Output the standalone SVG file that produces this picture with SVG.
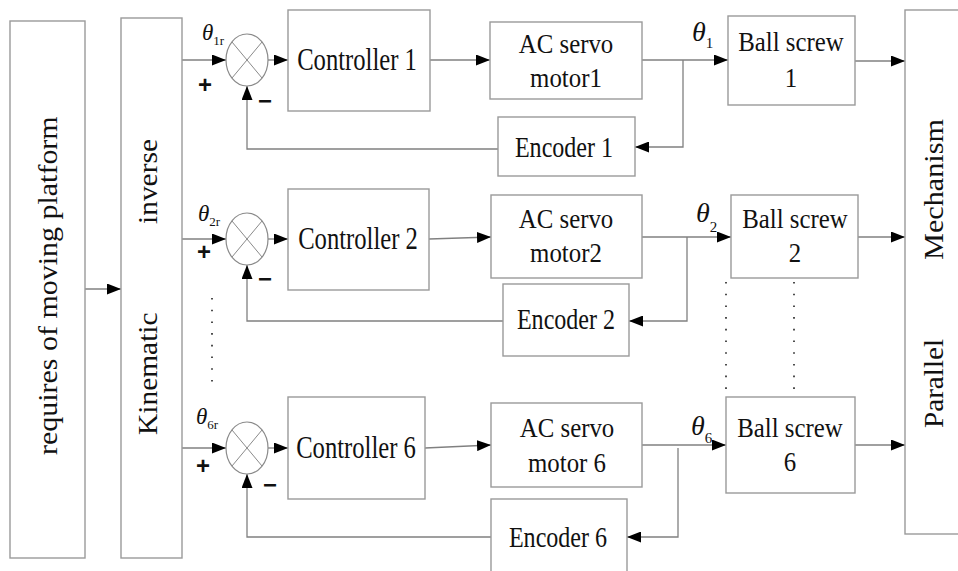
<svg xmlns="http://www.w3.org/2000/svg" width="958" height="571" viewBox="0 0 958 571">
  <defs>
    <marker id="arrow" markerUnits="userSpaceOnUse" markerWidth="14" markerHeight="11" refX="14" refY="5.5" orient="auto">
      <path d="M0,0 L14,5.5 L0,11 Z" fill="#000"/>
    </marker>
    <style>
      .box { fill: #fff; stroke: #9a9a9a; stroke-width: 1.4; }
      .sum { fill: #fff; stroke: #8a8a8a; stroke-width: 1.2; }
      .cross { stroke: #8a8a8a; stroke-width: 1; }
      .wire { fill: none; stroke: #808080; stroke-width: 1.3; }
      .dots { fill: none; stroke: #222; stroke-width: 1.6; stroke-dasharray: 1.6 10.1; }
      text { font-family: "Liberation Serif", "Times New Roman", serif; fill: #111; }
      .ctl { font-size: 32px; text-anchor: middle; }
      .mid { font-size: 27px; text-anchor: middle; }
      .enc { font-size: 29px; text-anchor: middle; }
      .vert { font-size: 27px; }
      .th { font-style: italic; }
      .sign { font-family: "Liberation Sans", Arial, sans-serif; font-weight: bold; font-size: 24px; text-anchor: middle; }
    </style>
  </defs>

  <!-- connectors -->
  <g id="connectors">
    <line class="wire" x1="85" y1="289" x2="121" y2="289" marker-end="url(#arrow)"/>

    <!-- channel 1 -->
    <line class="wire" x1="182" y1="60" x2="226" y2="60" marker-end="url(#arrow)"/>
    <line class="wire" x1="268" y1="60" x2="288" y2="60" marker-end="url(#arrow)"/>
    <line class="wire" x1="430" y1="60" x2="490" y2="60" marker-end="url(#arrow)"/>
    <line class="wire" x1="642" y1="60" x2="728" y2="60" marker-end="url(#arrow)"/>
    <polyline class="wire" points="683,60 683,147 635,147" marker-end="url(#arrow)"/>
    <polyline class="wire" points="498,149 247,149 247,86" marker-end="url(#arrow)"/>
    <line class="wire" x1="855" y1="61" x2="905" y2="61" marker-end="url(#arrow)"/>

    <!-- channel 2 -->
    <line class="wire" x1="182" y1="239" x2="226" y2="239" marker-end="url(#arrow)"/>
    <line class="wire" x1="268" y1="239" x2="288" y2="239" marker-end="url(#arrow)"/>
    <line class="wire" x1="429" y1="239" x2="491" y2="237" marker-end="url(#arrow)"/>
    <line class="wire" x1="642" y1="237" x2="731" y2="237" marker-end="url(#arrow)"/>
    <polyline class="wire" points="687,237 687,321 629,321" marker-end="url(#arrow)"/>
    <polyline class="wire" points="503,321 247,321 247,265" marker-end="url(#arrow)"/>
    <line class="wire" x1="858" y1="237" x2="905" y2="237" marker-end="url(#arrow)"/>

    <!-- channel 6 -->
    <line class="wire" x1="182" y1="448" x2="226" y2="448" marker-end="url(#arrow)"/>
    <line class="wire" x1="268" y1="448" x2="288" y2="448" marker-end="url(#arrow)"/>
    <line class="wire" x1="425" y1="448" x2="491" y2="445" marker-end="url(#arrow)"/>
    <line class="wire" x1="642" y1="445" x2="726" y2="445" marker-end="url(#arrow)"/>
    <polyline class="wire" points="678,448 678,537 627,537" marker-end="url(#arrow)"/>
    <polyline class="wire" points="491,537 247,537 247,474" marker-end="url(#arrow)"/>
    <line class="wire" x1="855" y1="445" x2="905" y2="445" marker-end="url(#arrow)"/>

    <!-- ellipsis between channels -->
    <line class="dots" x1="212" y1="298" x2="212" y2="382"/>
    <line class="dots" x1="726" y1="282" x2="726" y2="392"/>
    <line class="dots" x1="794" y1="282" x2="794" y2="396"/>
  </g>

  <!-- requirement block -->
  <g id="requires">
    <rect class="box" x="10" y="21" width="75" height="537"/>
    <text class="vert" transform="translate(57,455) rotate(-90) scale(1.11,1)">requires of moving platform</text>
  </g>

  <g id="kinematic">
    <rect class="box" x="121" y="18" width="61" height="540"/>
    <text class="vert" transform="translate(157,435) rotate(-90) scale(1.09,1)">Kinematic</text>
    <text class="vert" transform="translate(157,224) rotate(-90) scale(1.09,1)">inverse</text>
  </g>

  <g id="mechanism">
    <rect class="box" x="905" y="10" width="70" height="524"/>
    <text class="vert" transform="translate(943,260) rotate(-90) scale(1.12,1)">Mechanism</text>
    <text class="vert" transform="translate(943,428) rotate(-90) scale(1.08,1)">Parallel</text>
  </g>

  <!-- channel 1 nodes -->
  <g id="sum1">
    <ellipse class="sum" cx="247" cy="60" rx="21" ry="26"/>
    <line class="cross" x1="232" y1="42" x2="262" y2="78"/>
    <line class="cross" x1="262" y1="42" x2="232" y2="78"/>
    <text x="202" y="40" font-size="23"><tspan class="th">θ</tspan><tspan font-size="13" dy="5">1r</tspan></text>
    <text class="sign" x="205" y="93">+</text>
    <text class="sign" x="265" y="109">−</text>
  </g>
  <g id="controller1">
    <rect class="box" x="288" y="10" width="142" height="101"/>
    <text class="ctl" transform="translate(357,70) scale(0.77,1)">Controller 1</text>
  </g>
  <g id="motor1">
    <rect class="box" x="490" y="22" width="152" height="77"/>
    <text class="mid" transform="translate(566,53) scale(0.92,1)">AC servo</text>
    <text class="mid" transform="translate(566,87) scale(0.92,1)">motor1</text>
  </g>
  <g id="encoder1">
    <rect class="box" x="498" y="117" width="137" height="59"/>
    <text class="enc" transform="translate(564,157) scale(0.83,1)">Encoder 1</text>
  </g>
  <g id="theta1">
    <text x="692" y="41" font-size="28"><tspan class="th">θ</tspan><tspan font-size="15" dy="7">1</tspan></text>
  </g>
  <g id="ballscrew1">
    <rect class="box" x="728" y="16" width="127" height="89"/>
    <text class="mid" transform="translate(791,51) scale(0.92,1)">Ball screw</text>
    <text class="mid" transform="translate(791,87) scale(0.92,1)">1</text>
  </g>

  <!-- channel 2 nodes -->
  <g id="sum2">
    <ellipse class="sum" cx="247" cy="239" rx="21" ry="26"/>
    <line class="cross" x1="232" y1="221" x2="262" y2="257"/>
    <line class="cross" x1="262" y1="221" x2="232" y2="257"/>
    <text x="198" y="221" font-size="23"><tspan class="th">θ</tspan><tspan font-size="13" dy="5">2r</tspan></text>
    <text class="sign" x="204" y="260">+</text>
    <text class="sign" x="265" y="287">−</text>
  </g>
  <g id="controller2">
    <rect class="box" x="288" y="189" width="141" height="101"/>
    <text class="ctl" transform="translate(358,249) scale(0.77,1)">Controller 2</text>
  </g>
  <g id="motor2">
    <rect class="box" x="491" y="195" width="151" height="83"/>
    <text class="mid" transform="translate(566,228) scale(0.92,1)">AC servo</text>
    <text class="mid" transform="translate(566,262) scale(0.92,1)">motor2</text>
  </g>
  <g id="encoder2">
    <rect class="box" x="503" y="284" width="126" height="72"/>
    <text class="enc" transform="translate(566,329) scale(0.83,1)">Encoder 2</text>
  </g>
  <g id="theta2">
    <text x="696" y="222" font-size="28"><tspan class="th">θ</tspan><tspan font-size="15" dy="10">2</tspan></text>
  </g>
  <g id="ballscrew2">
    <rect class="box" x="731" y="195" width="127" height="83"/>
    <text class="mid" transform="translate(795,228) scale(0.92,1)">Ball screw</text>
    <text class="mid" transform="translate(795,262) scale(0.92,1)">2</text>
  </g>

  <!-- channel 6 nodes -->
  <g id="sum6">
    <ellipse class="sum" cx="247" cy="448" rx="21" ry="26"/>
    <line class="cross" x1="232" y1="430" x2="262" y2="466"/>
    <line class="cross" x1="262" y1="430" x2="232" y2="466"/>
    <text x="196" y="424" font-size="23"><tspan class="th">θ</tspan><tspan font-size="13" dy="5">6r</tspan></text>
    <text class="sign" x="203" y="474">+</text>
    <text class="sign" x="270" y="493">−</text>
  </g>
  <g id="controller6">
    <rect class="box" x="288" y="397" width="137" height="102"/>
    <text class="ctl" transform="translate(356,458) scale(0.77,1)">Controller 6</text>
  </g>
  <g id="motor6">
    <rect class="box" x="491" y="403" width="151" height="84"/>
    <text class="mid" transform="translate(567,437) scale(0.92,1)">AC servo</text>
    <text class="mid" transform="translate(567,472) scale(0.92,1)">motor 6</text>
  </g>
  <g id="encoder6">
    <rect class="box" x="491" y="499" width="136" height="80"/>
    <text class="enc" transform="translate(558,547) scale(0.83,1)">Encoder 6</text>
  </g>
  <g id="theta6">
    <text x="691" y="435" font-size="28"><tspan class="th">θ</tspan><tspan font-size="15" dy="8">6</tspan></text>
  </g>
  <g id="ballscrew6">
    <rect class="box" x="726" y="397" width="129" height="96"/>
    <text class="mid" transform="translate(790,437) scale(0.92,1)">Ball screw</text>
    <text class="mid" transform="translate(790,471) scale(0.92,1)">6</text>
  </g>
</svg>
